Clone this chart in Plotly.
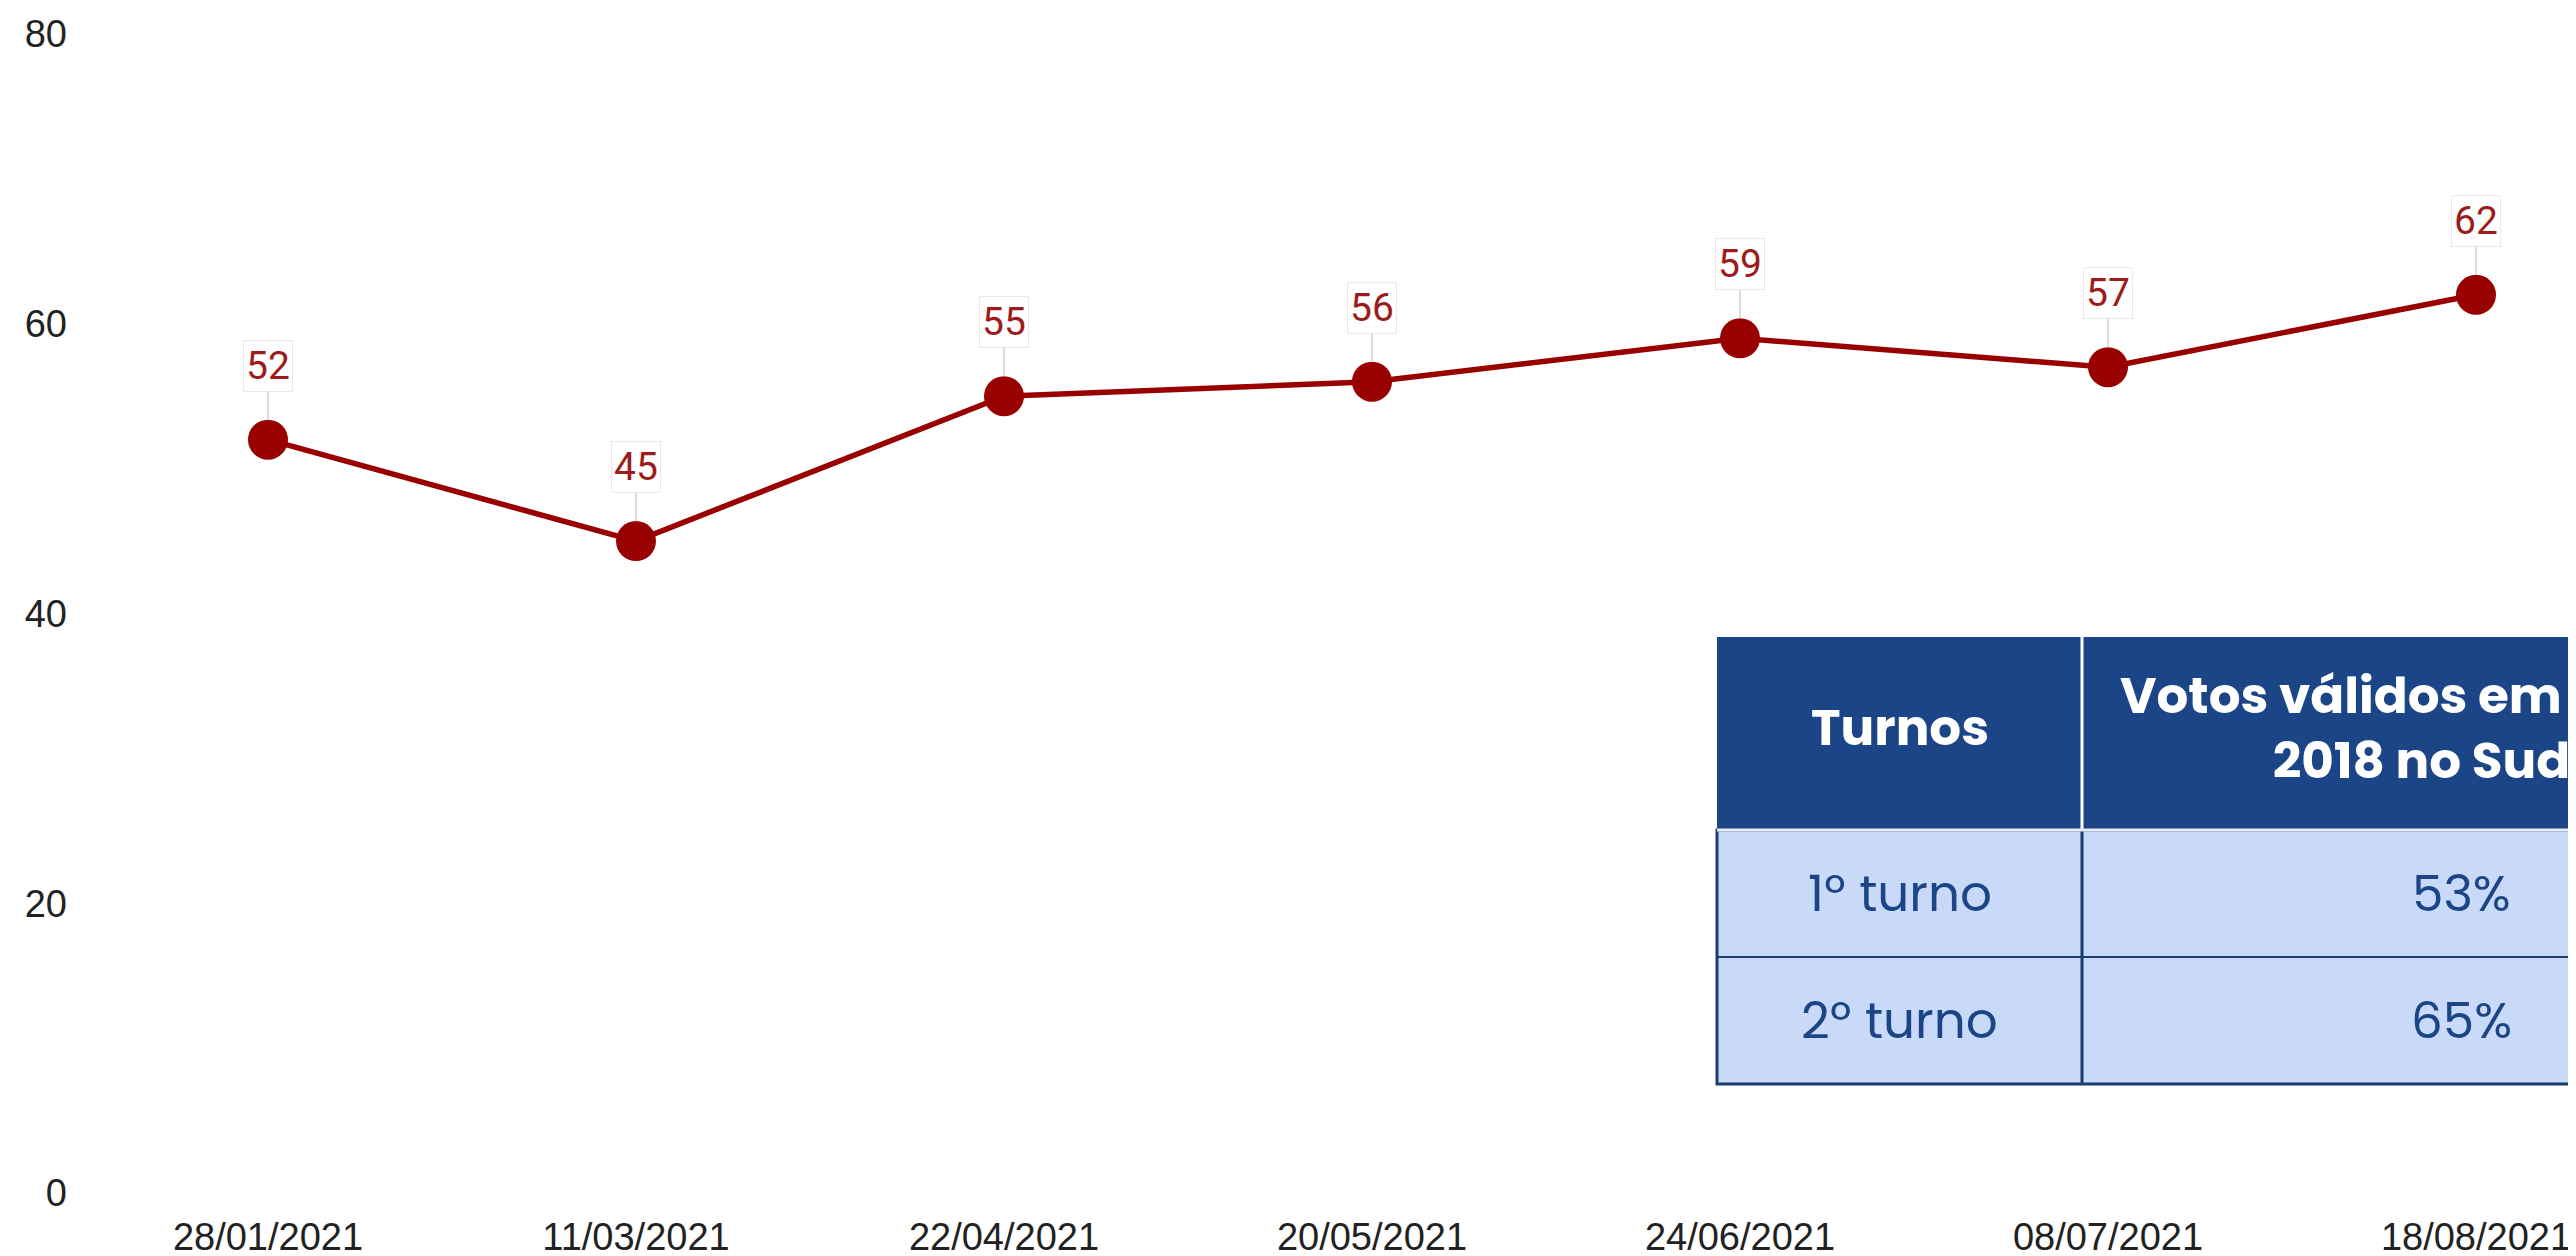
import plotly.graph_objects as go

# ---- data ----
dates = ["28/01/2021", "11/03/2021", "22/04/2021", "20/05/2021",
         "24/06/2021", "08/07/2021", "18/08/2021"]
values = [52, 45, 55, 56, 59, 57, 62]
y_ticks = [0, 20, 40, 60, 80]

table_header = ["Turnos", "Votos válidos em Bolsonaro<br>2018 no Sudeste"]
table_turnos = ["1º turno", "2º turno"]
table_votos = ["53%", "65%"]

# ---- layout geometry (screen pixels; page body has an 8px margin) ----
O = 8
FW, FH = 2576, 1256
L, R, T, B = 84 - O, 0, 34 - O, 63 + O
W = FW - L - R
HP = FH - T - B

def px(x):
    return (x - O - L) / W

def py(y):
    return (FH - B - (y - O)) / HP

LINE = "#990000"
LABEL = "#9e1b1b"
NAVY = "#1c4587"
LIGHT = "#c9daf8"
BORDER = "#1a3c6e"

fig = go.Figure()
fig.add_trace(go.Scatter(
    x=dates, y=values, mode="lines+markers",
    line=dict(color=LINE, width=5.5),
    marker=dict(color=LINE, size=40),
    hoverinfo="skip", showlegend=False,
))

annotations = []
for d, v in zip(dates, values):
    annotations.append(dict(
        x=d, y=v, xref="x", yref="y", text=str(v),
        showarrow=True, ax=0, ay=-74, arrowhead=0, arrowwidth=2,
        arrowcolor="#dcdcdc", standoff=20,
        bgcolor="white", bordercolor="#f0e6e6", borderwidth=1, borderpad=2,
        font=dict(family="Roboto, Arial", size=39, color=LABEL),
    ))

# ---- table ----
tx0, tx1, tcol = 1717, 2840, 2082
ty0, thead, trow1, ty1 = 637, 830, 957, 1084
shapes = [
    dict(type="rect", xref="paper", yref="paper",
         x0=px(tx0), x1=px(tx1), y0=py(thead), y1=py(ty0),
         fillcolor=NAVY, line=dict(width=0), layer="above"),
    dict(type="rect", xref="paper", yref="paper",
         x0=px(tx0), x1=px(tx1), y0=py(ty1), y1=py(thead),
         fillcolor=LIGHT, line=dict(color=BORDER, width=3), layer="above"),
    dict(type="line", xref="paper", yref="paper",
         x0=px(tx0), x1=px(tx1), y0=py(trow1), y1=py(trow1),
         line=dict(color=BORDER, width=2), layer="above"),
    dict(type="line", xref="paper", yref="paper",
         x0=px(tcol), x1=px(tcol), y0=py(ty1), y1=py(thead),
         line=dict(color=BORDER, width=3), layer="above"),
    dict(type="line", xref="paper", yref="paper",
         x0=px(tcol), x1=px(tcol), y0=py(thead), y1=py(ty0),
         line=dict(color="white", width=3), layer="above"),
    dict(type="line", xref="paper", yref="paper",
         x0=px(tx0), x1=px(tx1), y0=py(thead), y1=py(thead),
         line=dict(color="#e8eef8", width=3), layer="above"),
]

c1 = (tx0 + tcol) / 2
c2 = (tcol + tx1) / 2
hy = (ty0 + thead) / 2 - 6
r1 = (thead + trow1) / 2
r2 = (trow1 + ty1) / 2
for cx, txt in zip([c1, c2 + 15], table_header):
    annotations.append(dict(
        x=px(cx), y=py(hy), xref="paper", yref="paper", text=txt,
        showarrow=False, xanchor="center", yanchor="middle", align="center",
        font=dict(family="Poppins, Inter, sans-serif", size=50, color="white",
                  weight="bold"),
    ))
for ry, t1, t2 in zip([r1, r2], table_turnos, table_votos):
    for cx, txt in zip([c1, c2], [t1, t2]):
        annotations.append(dict(
            x=px(cx), y=py(ry), xref="paper", yref="paper", text=txt,
            showarrow=False, xanchor="center", yanchor="middle",
            font=dict(family="Poppins, Inter, sans-serif", size=50, color=NAVY),
        ))

fig.update_layout(
    width=FW, height=FH,
    margin=dict(l=L, r=R, t=T, b=B, autoexpand=False),
    paper_bgcolor="white", plot_bgcolor="white",
    shapes=shapes, annotations=annotations,
    xaxis=dict(type="category", range=[-0.5, -0.5 + W / 368.0],
               showgrid=False, zeroline=False, showline=False, ticks="",
               ticklabelstandoff=18,
               tickfont=dict(family="Arial, Liberation Sans", size=38, color="#222222")),
    yaxis=dict(range=[0, 80], tickvals=y_ticks, showgrid=False, zeroline=False,
               showline=False, ticks="", ticklabelstandoff=16,
               tickfont=dict(family="Arial, Liberation Sans", size=38, color="#222222")),
    hovermode=False,
)

fig.write_html("out.html", config={"displayModeBar": False})
